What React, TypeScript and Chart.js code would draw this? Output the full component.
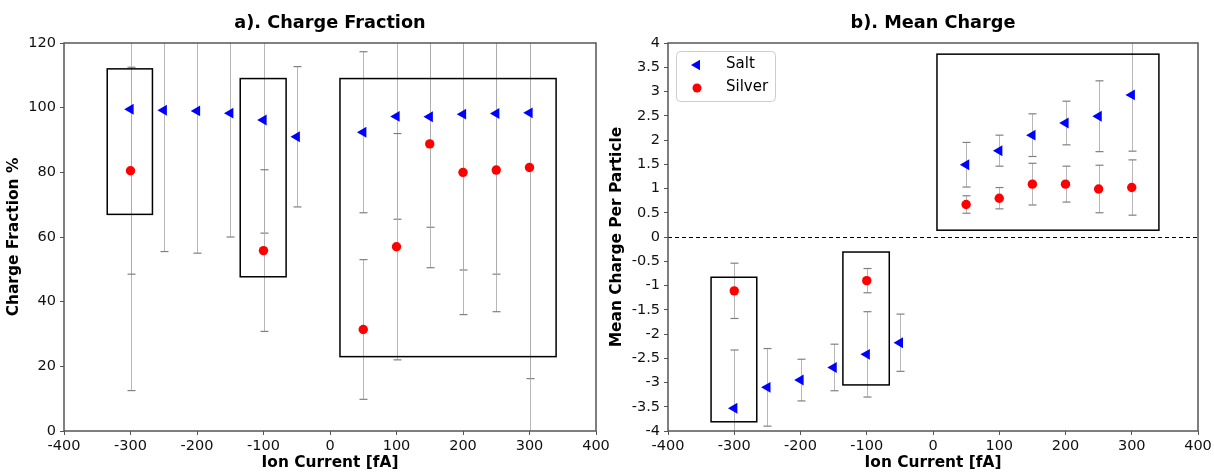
import React, { useEffect, useRef } from "react";
import { Chart, registerables } from "chart.js";

Chart.register(...registerables);

// ---------- data ----------
const saltCurrents = [-300, -250, -200, -150, -100, -50, 50, 100, 150, 200, 250, 300];
const silverCurrents = [-300, -100, 50, 100, 150, 200, 250, 300];

const saltFraction = [99.5, 99.2, 99.0, 98.3, 96.2, 91.0, 92.4, 97.3, 97.2, 98.0, 98.2, 98.4];
const saltFractionErr = [87, 43.7, 44, 38.3, 35, 21.7, 24.9, 31.8, 34.2, 48.2, 49.7, 82.2];
const silverFraction = [80.5, 55.8, 31.4, 57.0, 88.8, 80.0, 80.7, 81.5];
const silverFractionErr = [32, 25, 21.6, 35, 38.3, 44, 43.8, 90];

const saltCharge = [-3.53, -3.1, -2.95, -2.69, -2.42, -2.18, 1.49, 1.78, 2.1, 2.35, 2.49, 2.93];
const saltChargeErr = [1.2, 0.8, 0.43, 0.48, 0.88, 0.59, 0.46, 0.32, 0.44, 0.45, 0.73, 1.16];
const silverCharge = [-1.11, -0.9, 0.67, 0.8, 1.09, 1.09, 0.99, 1.02];
const silverChargeErr = [0.57, 0.25, 0.18, 0.22, 0.43, 0.37, 0.49, 0.57];

// annotation boxes [x1, x2, y1, y2] in data units
const fractionBoxes = [
  [-335, -267, 67, 112],
  [-135, -66, 47.7, 109],
  [15, 340, 23, 109],
];
const chargeBoxes = [
  [-335, -266, -3.81, -0.83],
  [-136, -66, -3.05, -0.31],
  [6, 341, 0.14, 3.77],
];

const xTicksMin = -400;
const xTicksMax = 400;
const seriesNames = ["Salt", "Silver"];

const FONT = "'DejaVu Sans', sans-serif";
const BLUE = "#0000ff";
const RED = "#ff0000";

type Panel = {
  title: string;
  yTitle: string;
  yMin: number;
  yMax: number;
  yStep: number;
  salt: number[];
  saltErr: number[];
  silver: number[];
  silverErr: number[];
  boxes: number[][];
  yAxisWidth: number;
  padRight: number;
  yTitlePad: number;
  zeroLine: boolean;
  legend: boolean;
  canvasWidth: number;
  left: number;
};

function drawTriangleLeft(ctx: CanvasRenderingContext2D, x: number, y: number, r: number) {
  ctx.beginPath();
  let rad = -Math.PI / 2;
  ctx.moveTo(x + Math.sin(rad) * r, y - Math.cos(rad) * r);
  rad += (2 * Math.PI) / 3;
  ctx.lineTo(x + Math.sin(rad) * r, y - Math.cos(rad) * r);
  rad += (2 * Math.PI) / 3;
  ctx.lineTo(x + Math.sin(rad) * r, y - Math.cos(rad) * r);
  ctx.closePath();
  ctx.fill();
}

function makeChart(canvas: HTMLCanvasElement, p: Panel) {
  const overlay = {
    id: "overlay",
    beforeDatasetsDraw(chart: any) {
      const { ctx, chartArea: a, scales } = chart;
      const xs = scales.x;
      const ys = scales.y;
      ctx.save();
      ctx.beginPath();
      ctx.rect(a.left, a.top, a.right - a.left, a.bottom - a.top);
      ctx.clip();

      if (p.zeroLine) {
        const y0 = Math.round(ys.getPixelForValue(0)) + 0.5;
        ctx.strokeStyle = "#000";
        ctx.lineWidth = 1;
        ctx.setLineDash([4, 3]);
        ctx.beginPath();
        ctx.moveTo(a.left, y0);
        ctx.lineTo(a.right, y0);
        ctx.stroke();
        ctx.setLineDash([]);
      }

      const drawErr = (xv: number[], vals: number[], errs: number[]) => {
        for (let i = 0; i < xv.length; i++) {
          const px = Math.round(xs.getPixelForValue(xv[i])) + 0.5;
          const top = ys.getPixelForValue(vals[i] + errs[i]);
          const bot = ys.getPixelForValue(vals[i] - errs[i]);
          ctx.strokeStyle = "rgba(170,170,170,0.85)";
          ctx.lineWidth = 1;
          ctx.beginPath();
          ctx.moveTo(px, top);
          ctx.lineTo(px, bot);
          ctx.stroke();
          ctx.strokeStyle = "#808080";
          ctx.lineWidth = 1.2;
          for (const cy of [top, bot]) {
            ctx.beginPath();
            ctx.moveTo(px - 4, cy);
            ctx.lineTo(px + 4, cy);
            ctx.stroke();
          }
        }
      };
      drawErr(saltCurrents, p.salt, p.saltErr);
      drawErr(silverCurrents, p.silver, p.silverErr);

      ctx.strokeStyle = "#000";
      ctx.lineWidth = 1.5;
      for (const b of p.boxes) {
        const x1 = xs.getPixelForValue(b[0]);
        const x2 = xs.getPixelForValue(b[1]);
        const y1 = ys.getPixelForValue(b[2]);
        const y2 = ys.getPixelForValue(b[3]);
        ctx.strokeRect(x1, y2, x2 - x1, y1 - y2);
      }
      ctx.restore();
    },
    afterDraw(chart: any) {
      const { ctx, chartArea: a } = chart;
      ctx.save();
      ctx.strokeStyle = "#555";
      ctx.lineWidth = 1.5;
      ctx.strokeRect(a.left, a.top, a.right - a.left, a.bottom - a.top);

      ctx.fillStyle = "#000";
      ctx.font = `bold 17.7px ${FONT}`;
      ctx.textAlign = "center";
      ctx.textBaseline = "alphabetic";
      ctx.fillText(p.title, (a.left + a.right) / 2, 27.5);

      if (p.legend) {
        const lx = a.left + 8;
        const ly = a.top + 8;
        const w = 99;
        const h = 50;
        ctx.fillStyle = "rgba(255,255,255,0.85)";
        ctx.strokeStyle = "#cccccc";
        ctx.lineWidth = 1;
        ctx.beginPath();
        (ctx as any).roundRect(lx + 0.5, ly + 0.5, w, h, 4);
        ctx.fill();
        ctx.stroke();
        ctx.fillStyle = BLUE;
        drawTriangleLeft(ctx, lx + 21, ly + 14, 6);
        ctx.fillStyle = RED;
        ctx.beginPath();
        ctx.arc(lx + 21, ly + 37, 4.5, 0, Math.PI * 2);
        ctx.fill();
        ctx.fillStyle = "#000";
        ctx.font = `15px ${FONT}`;
        ctx.textAlign = "left";
        ctx.textBaseline = "middle";
        ctx.fillText(seriesNames[0], lx + 50, ly + 13);
        ctx.fillText(seriesNames[1], lx + 50, ly + 36);
      }
      ctx.restore();
    },
  };

  const tickFont = { family: FONT, size: 14.5 };
  const titleFont = { family: FONT, size: 15.4, weight: "bold" as const };

  return new Chart(canvas, {
    type: "scatter",
    data: {
      datasets: [
        {
          label: seriesNames[0],
          data: saltCurrents.map((c, i) => ({ x: c, y: p.salt[i] })),
          pointStyle: "triangle",
          rotation: -90,
          pointRadius: 6.3,
          backgroundColor: BLUE,
          borderColor: BLUE,
          borderWidth: 0,
        },
        {
          label: seriesNames[1],
          data: silverCurrents.map((c, i) => ({ x: c, y: p.silver[i] })),
          pointStyle: "circle",
          pointRadius: 4.7,
          backgroundColor: RED,
          borderColor: RED,
          borderWidth: 0,
        },
      ],
    },
    options: {
      animation: false,
      responsive: false,
      devicePixelRatio: 1,
      layout: { padding: { left: 0, right: p.padRight, top: 43, bottom: 0 } },
      plugins: {
        legend: { display: false },
        title: { display: false },
        tooltip: { enabled: false },
      },
      scales: {
        x: {
          type: "linear",
          min: xTicksMin,
          max: xTicksMax,
          ticks: {
            stepSize: 100,
            font: tickFont,
            color: "#111",
            padding: 3,
            maxRotation: 0,
            autoSkip: false,
            callback: (v: any) => String(v),
          },
          grid: { drawOnChartArea: false, drawTicks: true, tickLength: 4, color: "#555" },
          border: { display: false },
          title: {
            display: true,
            text: "Ion Current [fA]",
            font: titleFont,
            color: "#000",
            padding: { top: 0, bottom: 2 },
          },
          afterFit(s: any) {
            s.height = 43;
            s.paddingLeft = 0;
            s.paddingRight = 0;
          },
        },
        y: {
          type: "linear",
          min: p.yMin,
          max: p.yMax,
          ticks: {
            stepSize: p.yStep,
            font: tickFont,
            color: "#111",
            padding: 4,
            autoSkip: false,
            callback: (v: any) => String(Math.round(v * 10) / 10),
          },
          grid: { drawOnChartArea: false, drawTicks: true, tickLength: 4, color: "#555" },
          border: { display: false },
          title: {
            display: true,
            text: p.yTitle,
            font: titleFont,
            color: "#000",
            padding: { top: p.yTitlePad, bottom: 0 },
          },
          afterFit(s: any) {
            s.width = p.yAxisWidth;
            s.paddingTop = 0;
            s.paddingBottom = 0;
          },
        },
      },
    } as any,
    plugins: [overlay],
  });
}

const panels: Panel[] = [
  {
    title: "a). Charge Fraction",
    yTitle: "Charge Fraction %",
    yMin: 0,
    yMax: 120,
    yStep: 20,
    salt: saltFraction,
    saltErr: saltFractionErr,
    silver: silverFraction,
    silverErr: silverFractionErr,
    boxes: fractionBoxes,
    yAxisWidth: 64,
    padRight: 24,
    yTitlePad: 5,
    zeroLine: false,
    legend: false,
    canvasWidth: 620,
    left: 0,
  },
  {
    title: "b). Mean Charge",
    yTitle: "Mean Charge Per Particle",
    yMin: -4,
    yMax: 4,
    yStep: 0.5,
    salt: saltCharge,
    saltErr: saltChargeErr,
    silver: silverCharge,
    silverErr: silverChargeErr,
    boxes: chargeBoxes,
    yAxisWidth: 61,
    padRight: 16,
    yTitlePad: 1,
    zeroLine: true,
    legend: true,
    canvasWidth: 607,
    left: 607,
  },
];

function PanelChart({ panel }: { panel: Panel }) {
  const ref = useRef<HTMLCanvasElement | null>(null);
  useEffect(() => {
    if (!ref.current) return;
    const c = makeChart(ref.current, panel);
    return () => c.destroy();
  }, [panel]);
  return (
    <canvas
      ref={ref}
      width={panel.canvasWidth}
      height={474}
      style={{ width: panel.canvasWidth, height: 474, display: "block" }}
    />
  );
}

export default function App() {
  return (
    <div style={{ position: "absolute", left: 0, top: 0, width: 1214, height: 474, background: "#fff" }}>
      {panels.map((p, i) => (
        <div key={i} style={{ position: "absolute", left: p.left, top: 0 }}>
          <PanelChart panel={p} />
        </div>
      ))}
    </div>
  );
}
